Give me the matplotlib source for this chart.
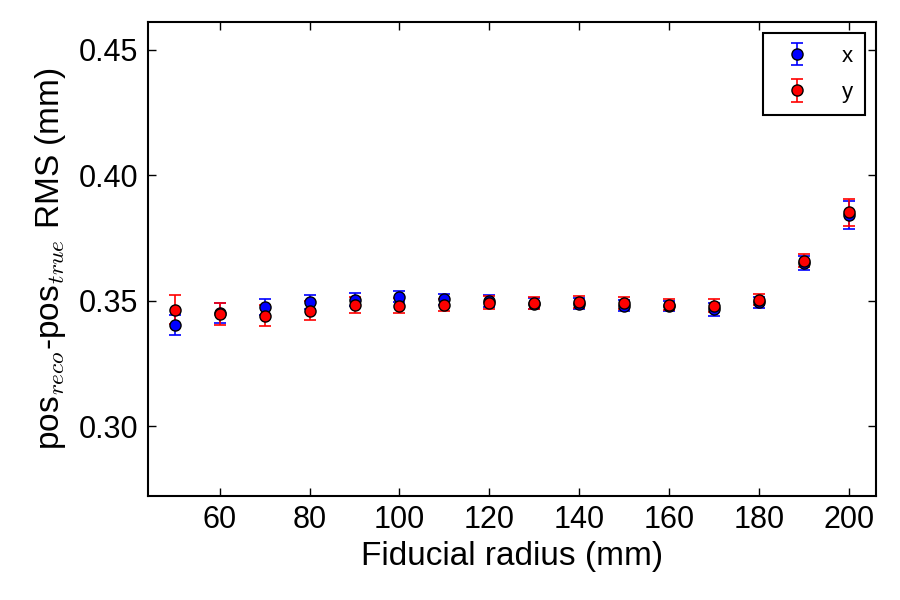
import matplotlib
matplotlib.use("Agg")
import matplotlib.pyplot as plt

radius = [50, 60, 70, 80, 90, 100, 110, 120, 130, 140, 150, 160, 170, 180, 190, 200]
rms_x = [0.3401, 0.3450, 0.3476, 0.3496, 0.3503, 0.3516, 0.3505, 0.3497, 0.3487, 0.3487,
         0.3480, 0.3479, 0.3465, 0.3493, 0.3649, 0.3841]
err_x = [0.0040, 0.0040, 0.0032, 0.0028, 0.0026, 0.0021, 0.0022, 0.0024, 0.0022, 0.0022,
         0.0022, 0.0020, 0.0025, 0.0023, 0.0027, 0.0056]
rms_y = [0.3463, 0.3447, 0.3439, 0.3460, 0.3481, 0.3480, 0.3483, 0.3492, 0.3491, 0.3495,
         0.3489, 0.3484, 0.3480, 0.3504, 0.3659, 0.3852]
err_y = [0.0058, 0.0044, 0.0042, 0.0037, 0.0032, 0.0031, 0.0024, 0.0027, 0.0024, 0.0024,
         0.0024, 0.0022, 0.0025, 0.0023, 0.0027, 0.0053]
yticks = [0.30, 0.35, 0.40, 0.45]
xticks = [60, 80, 100, 120, 140, 160, 180, 200]

plt.rcParams['font.family'] = ['Liberation Sans', 'DejaVu Sans']
plt.rcParams['mathtext.fontset'] = 'cm'

fig = plt.figure(figsize=(9, 6), dpi=100)
ax = fig.add_axes([148/900, 1 - 495.5/600, (876-148)/900, (495.5-22.3)/600])

ax.errorbar(radius, rms_x, yerr=err_x, fmt='o', color='blue', ecolor='blue',
            mec='black', mfc='blue', ms=8, capsize=4.5, elinewidth=1.2, capthick=1.2,
            label='x')
ax.errorbar(radius, rms_y, yerr=err_y, fmt='o', color='red', ecolor='red',
            mec='black', mfc='red', ms=8, capsize=4.5, elinewidth=1.2, capthick=1.2,
            label='y')

ax.set_xlim(44, 206.1)
ax.set_ylim(0.2723, 0.4609)
ax.set_xticks(xticks)
ax.set_yticks(yticks)
ax.set_yticklabels([f"{v:.2f}" for v in yticks])
ax.tick_params(axis='both', which='both', direction='in', length=6, width=1,
               labelsize=22, top=True, right=True, pad=7)
for s in ax.spines.values():
    s.set_linewidth(1.5)

ax.set_xlabel('Fiducial radius (mm)', fontsize=24, labelpad=4)
ax.set_ylabel(r'pos$_{reco}$-pos$_{true}$ RMS (mm)', fontsize=24, labelpad=8)

leg = ax.legend(loc='upper right', numpoints=1, fontsize=16, fancybox=False,
                framealpha=1, edgecolor='black', borderpad=0.55, handletextpad=1.0,
                labelspacing=0.7, borderaxespad=0.5)
leg.get_frame().set_linewidth(1.5)

fig.savefig('out.png', dpi=100)
